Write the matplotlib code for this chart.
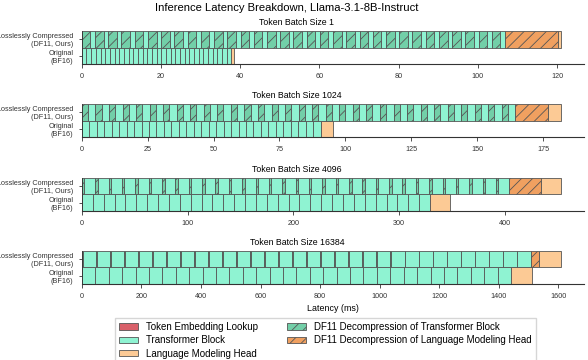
import matplotlib
matplotlib.use("Agg")
from matplotlib import pyplot as plt
from matplotlib.patches import Patch

plt.rcParams["font.family"] = ["Liberation Sans", "DejaVu Sans"]
plt.rcParams["hatch.linewidth"] = 0.6

batch_sizes = [1, 1024, 4096, 16384]
n_layers = 32
# latency per component (ms)
embed_ms = [0.02, 0.05, 0.15, 0.6]
block_ms = [1.18, 2.83, 10.28, 45.0]
block_decomp_ms = [2.16, 2.31, 2.34, 2.07]
lm_head_ms = [0.7, 4.6, 18.5, 71.0]
lm_decomp_ms = [13.3, 12.5, 29.9, 29.0]
row_labels = ["Original\n(BF16)", "Losslessly Compressed\n(DF11, Ours)"]

c_embed = "#d9606a"
c_block = "#8ff3d2"
c_block_dec = "#72cfa8"
c_lm = "#fcca95"
c_lm_dec = "#f0a060"
edge = "#555555"

fig = plt.figure(figsize=(5.88, 3.6), dpi=100)
fig.text(0.487, 0.978, "Inference Latency Breakdown, Llama-3.1-8B-Instruct",
         ha="center", va="center", fontsize=8.1)

left, width, height = 0.139, 0.855, 0.092
bottoms = [0.822, 0.619, 0.414, 0.211]


def seg(ax, y, left_x, w, color, hatch=None):
    ax.barh(y, w, left=left_x, height=1.0, color=color, edgecolor=edge,
            linewidth=0.6, hatch=hatch)
    return left_x + w


for i, bs in enumerate(batch_sizes):
    ax = fig.add_axes([left, bottoms[i], width, height])
    # row 0 = original, row 1 = DF11
    for y, df11 in [(0, False), (1, True)]:
        x = seg(ax, y, 0, embed_ms[i], c_embed)
        for _ in range(n_layers):
            if df11:
                x = seg(ax, y, x, block_decomp_ms[i], c_block_dec, "///")
            x = seg(ax, y, x, block_ms[i], c_block)
        if df11:
            x = seg(ax, y, x, lm_decomp_ms[i], c_lm_dec, "///")
        x = seg(ax, y, x, lm_head_ms[i], c_lm)
        if df11:
            total = x
    ax.set_xlim(0, total * 1.05)
    ax.set_ylim(-0.5, 1.5)
    ax.set_yticks([0, 1])
    ax.set_yticklabels(row_labels, fontsize=5.2, color="#222222")
    ax.tick_params(axis="x", labelsize=5.2, length=3, width=0.6, colors="#333333")
    ax.tick_params(axis="y", length=2.5, width=0.6, colors="#333333")
    for s in ["top", "right"]:
        ax.spines[s].set_visible(False)
    ax.spines["bottom"].set_linewidth(0.8)
    ax.spines["bottom"].set_color("#333333")
    ax.spines["left"].set_linewidth(0.6)
    ax.spines["left"].set_color("#333333")
    fig.text(0.505, bottoms[i] + height + 0.012, f"Token Batch Size {bs}",
             ha="center", va="bottom", fontsize=6.3)
    if i == len(batch_sizes) - 1:
        ax.set_xlabel("Latency (ms)", fontsize=6.4, labelpad=3)

handles = [
    Patch(facecolor=c_embed, edgecolor=edge, linewidth=0.6, label="Token Embedding Lookup"),
    Patch(facecolor=c_block, edgecolor=edge, linewidth=0.6, label="Transformer Block"),
    Patch(facecolor=c_lm, edgecolor=edge, linewidth=0.6, label="Language Modeling Head"),
    Patch(facecolor=c_block_dec, edgecolor=edge, linewidth=0.6, hatch="///",
          label="DF11 Decompression of Transformer Block"),
    Patch(facecolor=c_lm_dec, edgecolor=edge, linewidth=0.6, hatch="///",
          label="DF11 Decompression of Language Modeling Head"),
]
fig.legend(handles=handles, loc="upper center", bbox_to_anchor=(0.553, 1 - 318 / 360),
           ncol=2, fontsize=7, frameon=True, edgecolor="#cccccc", fancybox=False,
           handlelength=2.0, handleheight=0.6, labelspacing=0.35, columnspacing=3.0,
           borderaxespad=0)

fig.savefig("out.png", dpi=100)
